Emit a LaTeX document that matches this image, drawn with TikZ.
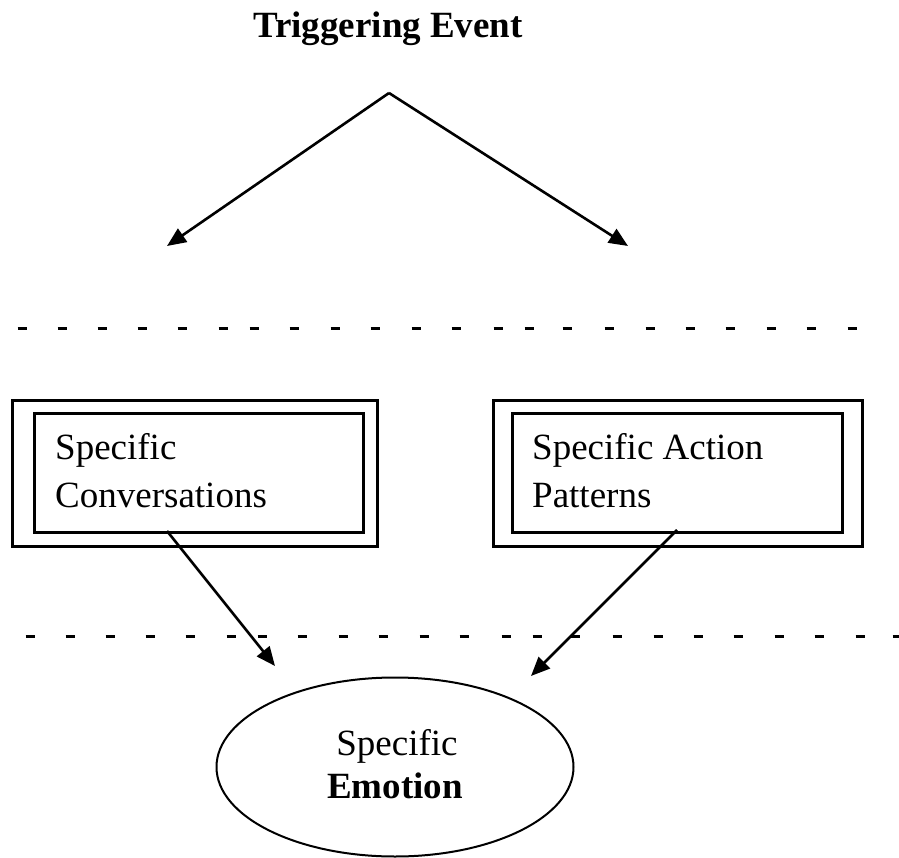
\documentclass[tikz,border=0pt]{standalone}
\usepackage{fontspec}
\setmainfont{Liberation Serif}
\usetikzlibrary{arrows.meta,shapes.geometric}
\begin{document}
\begin{tikzpicture}[x=1pt,y=-1pt,
  every node/.style={font=\fontsize{37}{46}\selectfont, inner sep=0pt},
  arr/.style={line width=2.6pt, -{Triangle[length=19pt,width=16pt]}},
  boxline/.style={draw, line width=2.6pt, anchor=north west},
  dashseg/.style={line width=3pt}]
\useasboundingbox (0,0) rectangle (899,858);
% title
\node[anchor=base, font=\fontsize{37}{46}\selectfont\bfseries] (title) at (388,38) {Triggering Event};
% top arrows
\coordinate (apex) at (389,93);
\coordinate (tipl) at (167,246);
\coordinate (tipr) at (628,246);
\draw[arr] (apex) -- (tipl);
\draw[arr] (apex) -- (tipr);
% dashed rows
\foreach \x in {22,62,102,142,182,223,254,294,335,375,416,456,498,529,567,609,650,690,730,771,811,852}
  \draw[dashseg] (\x-4.5,329) -- (\x+4.5,329);
\foreach \x in {30,70,110,150,190,231,262,302,343,383,424,464,506,537,575,617,658,698,738,779,819,860,897}
  \draw[dashseg] (\x-4.5,636) -- (\x+4.5,636);
% left box
\node[boxline, minimum width=365pt, minimum height=146pt] (lbo) at (11,399) {};
\node[boxline, minimum width=329pt, minimum height=119pt] (lbi) at (33,412) {};
\node[anchor=base west] (lt1) at (55,459) {Specific};
\node[anchor=base west] (lt2) at (55,507) {Conversations};
% right box
\node[boxline, minimum width=369pt, minimum height=146pt] (rbo) at (492,399) {};
\node[boxline, minimum width=330pt, minimum height=119pt] (rbi) at (511,412) {};
\node[anchor=base west] (rt1) at (532,459) {Specific Action};
\node[anchor=base west] (rt2) at (532,507) {Patterns};
% ellipse
\node[draw, ellipse, line width=2pt, minimum width=357pt, minimum height=179pt] (emo) at (395,767) {};
\node[anchor=base] (emo1) at (397,755) {Specific};
\node[anchor=base, font=\fontsize{37}{46}\selectfont\bfseries] (emo2) at (395,798) {Emotion};
% lower arrows
\coordinate (ls) at (167,531);
\coordinate (le) at (275,666);
\coordinate (rs) at (677,530);
\coordinate (re) at (531,676);
\draw[arr] (ls) -- (le);
\draw[arr] (rs) -- (re);
\end{tikzpicture}
\end{document}
